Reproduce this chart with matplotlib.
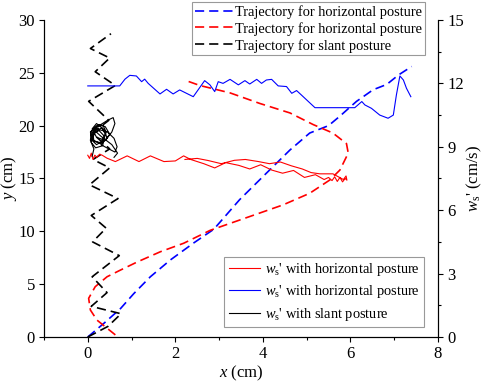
import numpy as np
import matplotlib
matplotlib.use('Agg')
import matplotlib.pyplot as plt
from matplotlib.ticker import MultipleLocator

plt.rcParams['font.family'] = ['Liberation Serif', 'DejaVu Serif']
plt.rcParams['mathtext.fontset'] = 'custom'
plt.rcParams['mathtext.rm'] = 'Liberation Serif'
plt.rcParams['mathtext.it'] = 'Liberation Serif:italic'

### trajectories (x, y in cm), left axis
traj_blue_x = [0, 0.37, 0.75, 1.05, 1.43, 1.89, 2.42, 2.88, 3.47, 4.08, 4.62, 5.07, 5.5, 5.76, 6.14, 6.52, 6.83, 7.1, 7.4]
traj_blue_y = [0, 1.3, 2.7, 4.1, 5.7, 7.3, 8.9, 10.2, 13.0, 15.5, 17.7, 19.3, 20.0, 20.9, 22.3, 23.4, 23.9, 24.8, 25.6]

traj_red_x = [0.63, 0.21, 0.06, 0.02, 0.17, 0.44, 0.75, 1.13, 1.66, 2.19, 2.8, 3.7, 4.46, 5.07, 5.53, 5.76,
              5.95, 5.91, 5.6, 5.15, 4.62, 3.93, 3.25, 2.56, 2.22]
traj_red_y = [0.2, 1.6, 2.55, 3.66, 4.76, 5.7, 6.34, 7.1, 8.07, 8.87, 10.1, 11.4, 12.5, 13.6, 14.86, 15.8,
              17.4, 18.3, 19.3, 20.1, 21.2, 22.1, 23.1, 23.8, 24.3]

traj_black_x = [0, 0.46, 0.76, 0.08, 0.44, 0.1, 0.72, 0.11, 0.42, 0.08, 0.69, 0.04, 0.5, 0.12, 0.5, 0.1,
                0.48, 0.02, 0.63, 0.17, 0.5, 0.06, 0.53]
traj_black_y = [0, 1.0, 2.2, 2.9, 4.2, 5.7, 7.7, 9.0, 10.3, 11.5, 13.1, 14.4, 16.0, 16.8, 17.8, 19.3,
                20.5, 22.3, 23.8, 25.1, 26.4, 27.3, 28.7]

### ws' (cm/s) vs x, right axis
ws_red_x = [0.0, 0.04, 0.08, 0.12, 0.16, 0.21, 0.27, 0.33, 0.44, 0.63, 0.9, 1.17, 1.43, 1.74, 2.0, 2.19,
            2.35, 2.65, 2.9, 3.15, 3.45, 3.7, 3.95, 4.2, 4.45, 4.7, 4.95, 5.2, 5.4, 5.5, 5.58, 5.64,
            5.7, 5.76, 5.82, 5.88, 5.92, 5.9, 5.84, 5.6, 5.3, 5.1, 4.9, 4.65, 4.4, 4.15, 3.9, 3.6,
            3.35, 3.05, 2.75, 2.5, 2.22]
ws_red_w = [8.6, 8.45, 8.7, 8.4, 8.6, 8.5, 8.65, 8.6, 8.46, 8.3, 8.57, 8.3, 8.57, 8.3, 8.33, 8.57,
            8.4, 8.2, 8.0, 8.25, 8.12, 7.95, 8.15, 7.9, 7.75, 7.88, 7.55, 7.68, 7.45, 7.55, 7.4, 7.58,
            7.36, 7.55, 7.34, 7.5, 7.42, 7.62, 7.45, 7.72, 7.72, 7.78, 7.95, 8.1, 8.28, 8.2, 8.3, 8.4,
            8.36, 8.2, 8.35, 8.45, 8.4]

ws_blue_x = [0, 0.73, 0.85, 0.96, 1.11, 1.23, 1.3, 1.38, 1.65, 1.8, 1.95, 2.1, 2.41, 2.67, 2.79, 2.9,
             2.98, 3.09, 3.25, 3.44, 3.59, 3.7, 3.86, 3.97, 4.08, 4.2, 4.35, 4.54, 4.66, 4.77, 4.88,
             5.04, 5.19, 6.1, 6.26, 6.33, 6.48, 6.67, 6.86, 6.98, 7.05, 7.13, 7.21, 7.28, 7.38]
ws_blue_w = [11.88, 11.88, 12.2, 12.38, 12.35, 12.08, 12.2, 12.0, 11.5, 11.72, 11.5, 11.69, 11.37, 12.13,
             11.93, 11.61, 12.08, 12.0, 12.19, 11.93, 12.13, 11.97, 12.19, 12.0, 12.16, 12.19, 11.88,
             11.85, 11.53, 11.66, 11.45, 11.14, 10.85, 10.85, 11.14, 10.98, 10.82, 10.5, 10.35, 10.5,
             11.45, 12.35, 12.16, 11.77, 11.37]

ws_black_x = [0.1, 0.14, 0.06, 0.08, 0.2, 0.35, 0.42, 0.36, 0.2, 0.1, 0.16, 0.32, 0.4, 0.3, 0.14, 0.12,
              0.22, 0.45, 0.58, 0.62, 0.55, 0.42, 0.3, 0.48, 0.62, 0.67, 0.6, 0.45, 0.28, 0.12, 0.08,
              0.18, 0.34, 0.38, 0.22, 0.06, 0.1, 0.28, 0.44, 0.38, 0.2, 0.1, 0.2, 0.4, 0.5, 0.4,
              0.26, 0.14, 0.3, 0.55, 0.68, 0.6]
ws_black_w = [8.55, 8.9, 9.3, 9.75, 10.0, 10.0, 9.7, 9.3, 9.1, 9.3, 9.7, 9.9, 9.6, 9.2, 9.25, 9.6,
              9.95, 10.25, 10.38, 10.1, 9.7, 9.35, 9.1, 8.9, 8.75, 9.0, 9.4, 9.7, 9.8, 9.6, 9.2,
              8.95, 9.05, 9.5, 9.85, 9.7, 9.35, 9.15, 9.4, 9.8, 10.1, 9.85, 9.45, 9.3, 9.6, 9.95,
              10.05, 9.8, 9.5, 9.1, 8.7, 8.5]

fig = plt.figure(figsize=(4.84, 3.84), dpi=100)
ax = fig.add_axes([0.0909, 0.1224, 0.814, 0.8256])
ax2 = ax.twinx()

dash = (5.5, 3)
l1, = ax.plot(traj_blue_x, traj_blue_y, color='#0000ff', lw=1.2, dashes=dash, label='Trajectory for horizontal posture')
l2, = ax.plot(traj_red_x, traj_red_y, color='#ff0000', lw=1.2, dashes=dash, label='Trajectory for horizontal posture')
l3, = ax.plot(traj_black_x, traj_black_y, color='black', lw=1.2, dashes=dash, label='Trajectory for slant posture')

s1, = ax2.plot(ws_red_x, ws_red_w, color='#ff0000', lw=0.8, label=r"$w_\mathrm{s}$' with horizontal posture")
s2, = ax2.plot(ws_blue_x, ws_blue_w, color='#0000ff', lw=0.8, label=r"$w_\mathrm{s}$' with horizontal posture")
s3, = ax2.plot(ws_black_x, ws_black_w, color='black', lw=0.8, label=r"$w_\mathrm{s}$' with slant posture")

ax.set_xlim(-1, 8)
ax.set_ylim(0, 30)
ax2.set_ylim(0, 15)
ax.xaxis.set_major_locator(MultipleLocator(2))
ax.xaxis.set_minor_locator(MultipleLocator(1))
ax.yaxis.set_major_locator(MultipleLocator(5))
ax2.yaxis.set_major_locator(MultipleLocator(3))
ax2.yaxis.set_minor_locator(MultipleLocator(1.5))

for a in (ax, ax2):
    a.spines['top'].set_visible(False)
    a.tick_params(which='major', length=3.6, width=0.8, labelsize=12, direction='out', pad=3)
    a.tick_params(which='minor', length=2.2, width=0.8, direction='out')

ax.set_xlabel(r'$x$ (cm)', fontsize=12, labelpad=1)
ax.set_ylabel(r'$y$ (cm)', fontsize=12)
ax2.set_ylabel(r"$w_\mathrm{s}$' (cm/s)", fontsize=12)
ax.yaxis.set_label_coords(-0.064, 0.5)
ax2.yaxis.set_label_coords(1.068, 0.5)

leg1 = ax2.legend(handles=[l1, l2, l3], loc='upper right', bbox_to_anchor=(0.878, 0.995),
                  bbox_transform=fig.transFigure, fontsize=10.4, frameon=True, fancybox=False,
                  edgecolor='#808080', borderpad=0.2, labelspacing=0.22, handlelength=2.6,
                  handletextpad=0.15, borderaxespad=0)
leg1.get_frame().set_linewidth(0.8)
ax2.add_artist(leg1)
leg2 = ax2.legend(handles=[s1, s2, s3], loc='lower right', bbox_to_anchor=(0.876, 0.148),
                  bbox_transform=fig.transFigure, fontsize=10.4, frameon=True, fancybox=False,
                  edgecolor='#808080', borderpad=0.3, labelspacing=0.38, handlelength=2.2,
                  handletextpad=0.3, borderaxespad=0)
leg2.get_frame().set_linewidth(0.8)

fig.savefig('out.png', dpi=100)
